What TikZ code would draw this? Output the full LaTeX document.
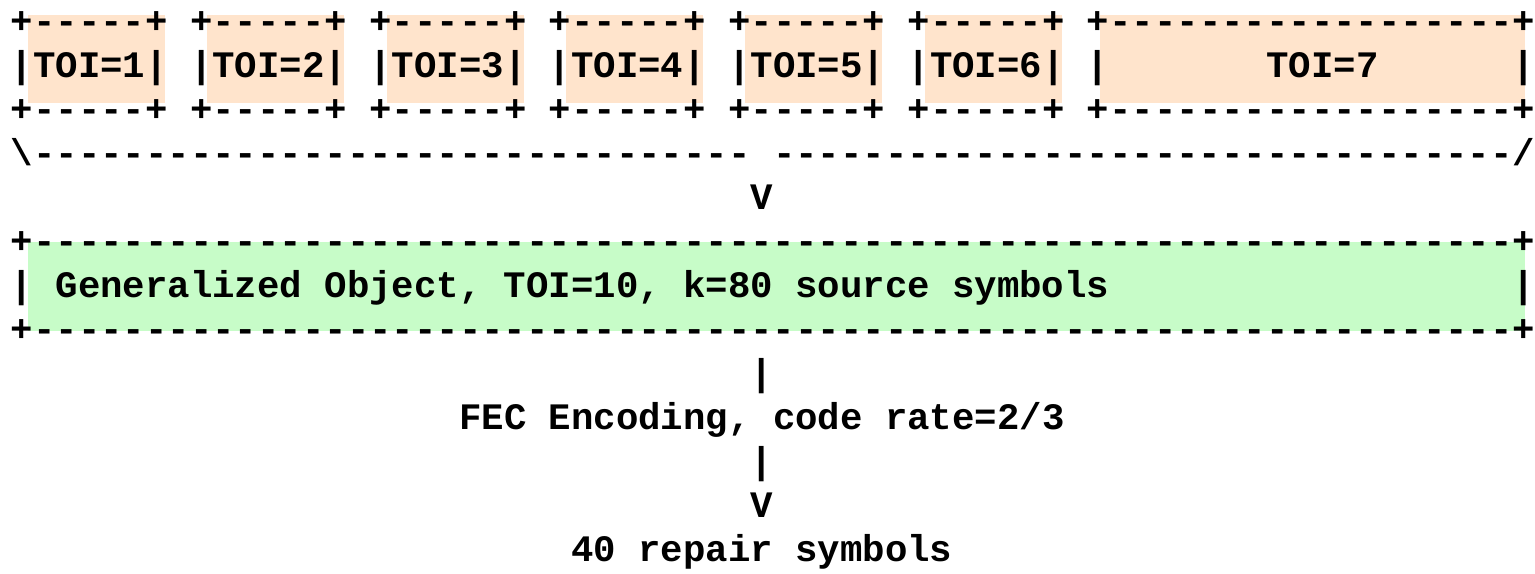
\documentclass[tikz,border=0pt]{standalone}
\usepackage{fontspec}
\setmonofont{Liberation Mono}

\definecolor{toifill}{RGB}{255,228,204}
\definecolor{objfill}{RGB}{199,252,200}

% one column of the character grid, left edge
\newcommand\col[1]{10.8+22.42*#1}
\newcommand\dashrun[1]{\foreach\k in {1,...,#1}{-}}

\begin{document}
\begin{tikzpicture}[x=0.5pt,y=-0.5pt,
    ascii/.style={inner sep=0pt,outer sep=0pt,anchor=base west,
      font=\fontsize{18.68pt}{22pt}\selectfont\ttfamily\bfseries}]

    \useasboundingbox (0,0) rectangle (1535,573);

    \foreach \i in {0,...,5}
        \fill[toifill] ({28+179.36*\i},15) rectangle ({165+179.36*\i},103);
    \fill[toifill] (1100,15) rectangle (1525,103);
    \fill[objfill] (28,242) rectangle (1525,331);

    \foreach \i [evaluate=\i as \n using int(\i+1)] in {0,...,5} {
        \node[ascii] (toptoi\n) at ({\col{8*\i}},33) {+\dashrun{5}+};
        \node[ascii] (toi\n) at ({\col{8*\i}},77) {|TOI=\n|};
        \node[ascii] (bottoi\n) at ({\col{8*\i}},121) {+\dashrun{5}+};
    }
    \node[ascii] (toptoi7) at ({\col{48}},33) {+\dashrun{18}+};
    \node[ascii] (toi7left) at ({\col{48}},77) {|};
    \node[ascii] (toi7) at ({\col{56}},77) {TOI=7};
    \node[ascii] (toi7right) at ({\col{67}},77) {|};
    \node[ascii] (bottoi7) at ({\col{48}},121) {+\dashrun{18}+};

    \node[ascii] (joinleft) at ({\col{0}},165) {\textbackslash\dashrun{32}};
    \node[ascii] (joinright) at ({\col{34}},165) {\dashrun{33}/};
    \node[ascii] (joinarrow) at ({\col{33}},209) {V};

    \node[ascii] (topobj) at ({\col{0}},253) {+\dashrun{66}+};
    \node[ascii] (obj) at ({\col{0}},297) {| Generalized Object, TOI=10, k=80 source symbols};
    \node[ascii] (objright) at ({\col{67}},297) {|};
    \node[ascii] (botobj) at ({\col{0}},341) {+\dashrun{66}+};

    \node[ascii] (fecbar) at ({\col{33}},385) {|};
    \node[ascii] (fec) at ({\col{20}},429) {FEC Encoding, code rate=2/3};
    \node[ascii] (repairbar) at ({\col{33}},473) {|};
    \node[ascii] (repairarrow) at ({\col{33}},517) {V};
    \node[ascii] (repair) at ({\col{25}},561) {40 repair symbols};

\end{tikzpicture}
\end{document}
